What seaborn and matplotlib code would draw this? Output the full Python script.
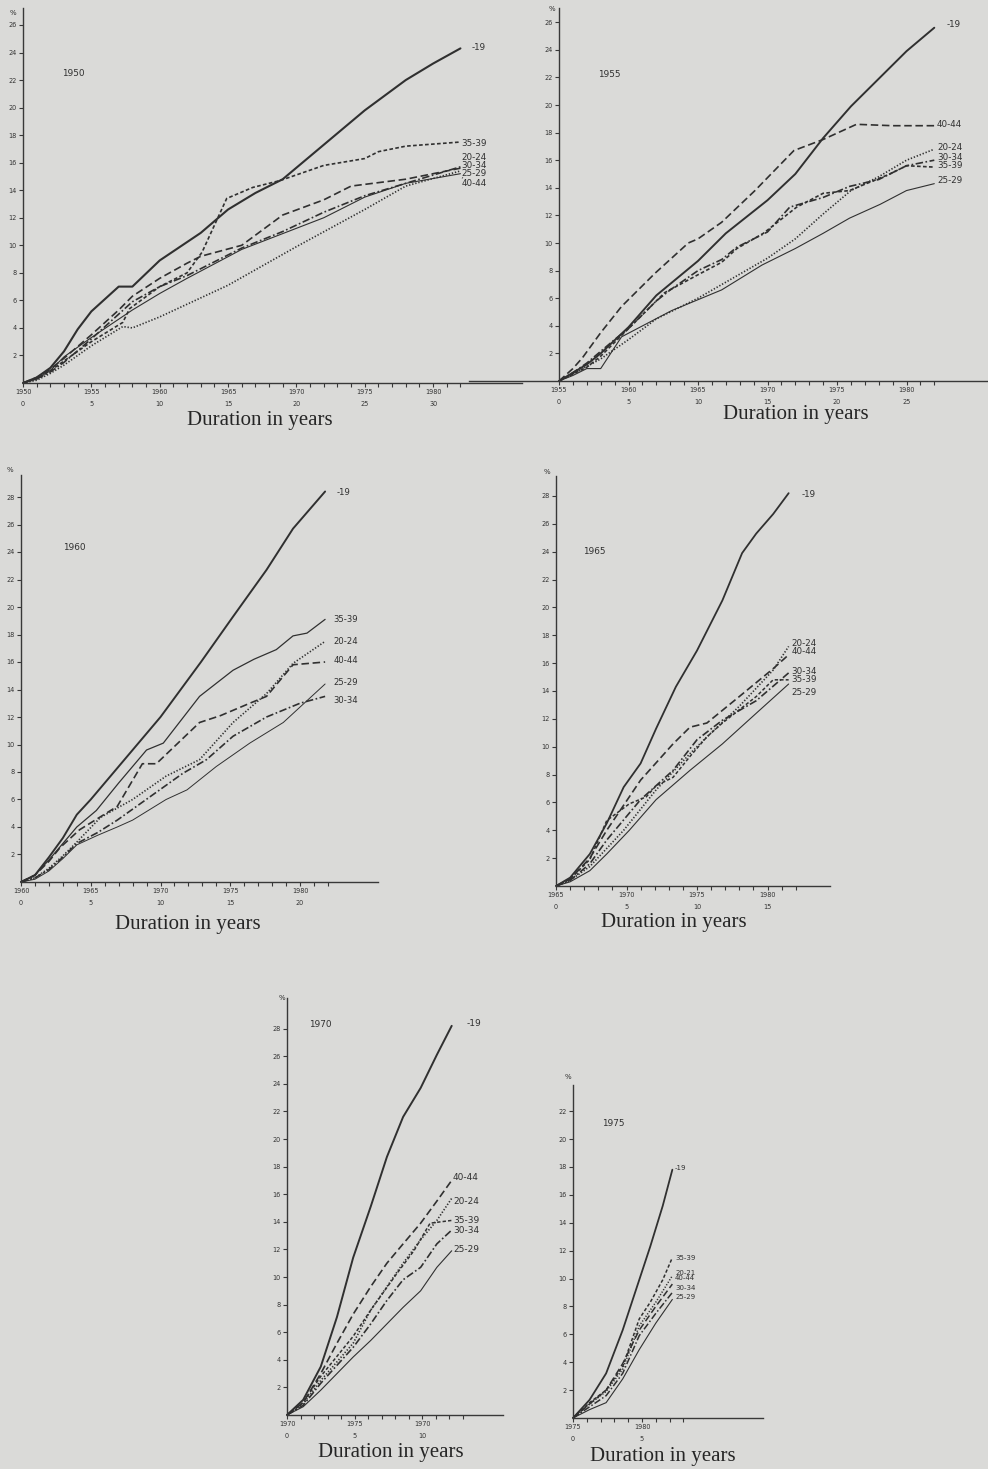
import matplotlib
matplotlib.use("Agg")
import matplotlib.pyplot as plt
import seaborn as sns
import pandas as pd

# ---------------- DATA (duration in years -> cumulative divorce %) ----------------
GROUPS = ["-19", "20-24", "25-29", "30-34", "35-39", "40-44"]

P1950_D = {
    "-19":   [0, 1, 2, 3, 4, 5, 7, 8, 10, 13, 15, 17, 19, 22, 25, 28, 30, 32],
    "35-39": [0, 1, 2, 3, 5, 7.3, 7.8, 10, 12, 13.1, 14.9, 16.8, 18.8, 22, 25, 26, 28, 32],
    "20-24": [0, 1, 2, 3, 5, 7, 8, 10, 12, 13, 16, 19, 22, 24, 28, 32],
    "30-34": [0, 1, 2, 3, 5, 8, 10, 12, 16, 19, 22, 25, 28, 32],
    "25-29": [0, 1, 2, 3, 5, 7.3, 8, 10, 15, 20, 25, 28, 32],
    "40-44": [0, 1, 2, 3, 5, 8, 10, 12, 16, 22, 25, 28, 32],
}
P1950_V = {
    "-19":   [0, 0.4, 1.1, 2.3, 3.9, 5.2, 7.0, 7.0, 8.9, 10.9, 12.6, 13.8, 14.8, 17.3, 19.8, 22.0, 23.2, 24.3],
    "35-39": [0, 0.3, 0.9, 1.6, 3.0, 4.4, 5.4, 7.0, 8.0, 9.5, 13.4, 14.2, 14.7, 15.8, 16.3, 16.8, 17.2, 17.5],
    "20-24": [0, 0.4, 1.0, 1.8, 3.5, 5.3, 6.3, 7.6, 8.7, 9.2, 10.0, 12.2, 13.3, 14.3, 14.8, 15.6],
    "30-34": [0, 0.3, 0.8, 1.5, 3.2, 5.9, 7.0, 7.8, 9.8, 11.0, 12.4, 13.6, 14.5, 15.7],
    "25-29": [0, 0.2, 0.7, 1.3, 2.7, 4.1, 4.0, 4.8, 7.1, 9.9, 12.6, 14.3, 15.4],
    "40-44": [0, 0.3, 0.9, 1.9, 3.3, 5.3, 6.5, 7.6, 9.7, 12.0, 13.5, 14.5, 15.2],
}

P1955_D = {
    "-19":   [0, 1, 2, 3, 5, 7, 10, 12, 15, 17, 19, 21, 23, 25, 27],
    "40-44": [0, 1, 1.7, 3, 4.5, 6.9, 9.3, 10, 11.7, 14.1, 16.9, 19, 21.4, 24, 27],
    "20-24": [0, 1, 3, 5, 7, 10, 15, 17, 19, 21, 23, 25, 27],
    "30-34": [0, 1, 2, 4, 5, 7, 8, 10, 11.7, 12.8, 15, 16.6, 19, 20.9, 23, 25, 27],
    "35-39": [0, 1, 2, 3, 5, 7.6, 10, 11.7, 12.8, 14.7, 17.1, 19, 20.9, 23.8, 25, 27],
    "25-29": [0, 1, 2, 3, 4.5, 8.1, 11.7, 14.6, 17, 19, 20.9, 23.1, 25, 27],
}
P1955_V = {
    "-19":   [0, 0.6, 1.2, 2.0, 3.9, 6.2, 8.7, 10.7, 13.1, 15.0, 17.6, 19.9, 21.9, 23.9, 25.6],
    "40-44": [0, 0.9, 1.7, 3.5, 5.4, 7.8, 10.0, 10.3, 11.5, 13.8, 16.7, 17.5, 18.6, 18.5, 18.5],
    "20-24": [0, 0.5, 1.6, 3.0, 4.5, 6.0, 8.9, 10.3, 12.1, 13.8, 14.8, 16.0, 16.8],
    "30-34": [0, 0.6, 1.3, 3.0, 3.8, 5.8, 6.6, 8.0, 8.8, 9.7, 10.8, 12.6, 13.3, 14.1, 14.6, 15.6, 16.0],
    "35-39": [0, 0.5, 1.0, 1.8, 3.8, 6.4, 7.7, 8.6, 9.6, 10.7, 12.6, 13.6, 13.8, 15.0, 15.6, 15.5],
    "25-29": [0, 0.4, 0.9, 0.9, 3.2, 5.1, 6.6, 8.4, 9.6, 10.7, 11.8, 12.8, 13.8, 14.3],
}

P1960_D = {
    "-19":   [0, 1, 2, 3, 4, 5, 6, 8, 10, 12.9, 15.2, 17.6, 19.5, 21.8],
    "35-39": [0, 1, 2, 3, 4, 5.4, 7, 9, 10.2, 12.8, 15.2, 16.7, 18.3, 19.5, 20.5, 21.8],
    "20-24": [0, 1, 2, 3, 4, 5.7, 8, 10.4, 12.8, 15.2, 17.6, 19.5, 21.8],
    "40-44": [0, 1, 2, 2.8, 4.2, 6.9, 8.7, 9.7, 12.8, 14.3, 16.4, 17.6, 19.5, 21.8],
    "25-29": [0, 1, 2, 3, 4, 5.5, 6.9, 8, 10.4, 11.9, 14, 16.4, 18.8, 21.8],
    "30-34": [0, 1, 2, 3, 4, 5.5, 6.9, 9.25, 11.6, 13.3, 15.2, 17.6, 20, 21.8],
}
P1960_V = {
    "-19":   [0, 0.5, 1.8, 3.2, 4.9, 6.0, 7.2, 9.6, 12.0, 16.0, 19.3, 22.7, 25.7, 28.4],
    "35-39": [0, 0.5, 1.6, 2.8, 4.0, 5.2, 7.2, 9.6, 10.1, 13.5, 15.4, 16.2, 16.9, 17.9, 18.1, 19.1],
    "20-24": [0, 0.3, 1.0, 1.9, 2.9, 4.7, 6.0, 7.7, 8.9, 11.6, 13.7, 15.9, 17.5],
    "40-44": [0, 0.5, 1.5, 2.5, 3.8, 5.5, 8.6, 8.6, 11.6, 12.1, 13.0, 13.5, 15.8, 16.0],
    "25-29": [0, 0.2, 0.8, 1.7, 2.7, 3.4, 4.0, 4.5, 6.0, 6.7, 8.4, 10.1, 11.6, 14.4],
    "30-34": [0, 0.3, 0.9, 1.8, 2.8, 3.6, 4.5, 6.2, 7.9, 8.9, 10.6, 12.0, 13.0, 13.5],
}

P1965_D = {
    "-19":   [0, 1, 2.4, 3.6, 4.8, 6, 7.1, 8.5, 10, 11.8, 13.2, 14.2, 15.4, 16.5],
    "20-24": [0, 1, 2.4, 3.6, 4.8, 7.1, 9.5, 10.7, 13, 15.4, 16.5],
    "40-44": [0, 1, 2.4, 3.6, 6, 8.3, 9.5, 10.7, 13, 15.4, 16.5],
    "30-34": [0, 1, 2.4, 3.6, 6, 8.3, 10, 11.8, 14.2, 16.5],
    "35-39": [0, 1, 2.4, 3.6, 5.2, 6.4, 7.1, 8.3, 9.5, 10.7, 11.8, 14.2, 15.4, 16.5],
    "25-29": [0, 1, 2.4, 3.6, 5.2, 7.1, 9.5, 11.8, 14.2, 16.5],
}
P1965_V = {
    "-19":   [0, 0.6, 2.3, 4.5, 7.1, 8.8, 11.3, 14.3, 16.9, 20.5, 23.9, 25.3, 26.7, 28.2],
    "20-24": [0, 0.4, 1.4, 2.7, 4.0, 6.9, 9.5, 10.7, 12.9, 15.5, 17.2],
    "40-44": [0, 0.5, 2.0, 4.0, 7.6, 10.2, 11.4, 11.7, 13.6, 15.6, 16.6],
    "30-34": [0, 0.4, 1.6, 3.3, 6.2, 8.3, 10.5, 11.9, 13.3, 15.3],
    "35-39": [0, 0.5, 1.9, 4.7, 5.9, 6.4, 7.2, 7.8, 9.3, 10.7, 11.7, 13.6, 14.8, 14.8],
    "25-29": [0, 0.3, 1.1, 2.3, 4.0, 6.2, 8.3, 10.2, 12.4, 14.5],
}

P1970_D = {
    "-19":   [0, 1.2, 2.5, 3.7, 4.9, 6.2, 7.4, 8.6, 9.9, 11.1, 12.2],
    "40-44": [0, 1.2, 2.5, 3.7, 4.9, 6.2, 7.4, 8.6, 9.9, 11.1, 12.2],
    "20-24": [0, 1.2, 2.5, 4.9, 6.2, 7.4, 8.6, 9.9, 11.1, 12.2],
    "35-39": [0, 1.2, 2.5, 4.9, 6.2, 8.1, 9.4, 10.6, 12.2],
    "30-34": [0, 1.2, 2.5, 4.9, 6.2, 7.4, 8.6, 9.9, 11.1, 12.2],
    "25-29": [0, 1.2, 2.5, 4.9, 6.2, 8.6, 9.9, 11.1, 12.2],
}
P1970_V = {
    "-19":   [0, 1.1, 3.5, 7.1, 11.4, 15.1, 18.7, 21.6, 23.7, 26.1, 28.2],
    "40-44": [0, 0.9, 3.0, 5.2, 7.3, 9.3, 11.0, 12.4, 13.9, 15.5, 17.0],
    "20-24": [0, 0.8, 2.5, 5.2, 7.6, 9.3, 11.0, 12.7, 14.1, 15.7],
    "35-39": [0, 0.9, 2.8, 5.7, 7.6, 10.2, 11.9, 13.9, 14.1],
    "30-34": [0, 0.7, 2.3, 4.9, 6.6, 8.3, 9.8, 10.7, 12.4, 13.4],
    "25-29": [0, 0.6, 1.8, 4.2, 5.4, 7.8, 9.0, 10.7, 11.9],
}

P1975_D = {
    "-19":   [0, 1.2, 2.4, 3.6, 4.8, 5.6, 6.5, 7.2],
    "35-39": [0, 1.2, 2.4, 3.6, 4.8, 5.6, 6.5, 7.2],
    "20-24": [0, 1.2, 2.4, 3.6, 4.8, 6.0, 7.2],
    "40-44": [0, 1.2, 2.4, 3.6, 4.8, 6.0, 7.2],
    "30-34": [0, 1.2, 2.4, 3.6, 4.8, 6.0, 7.2],
    "25-29": [0, 1.2, 2.4, 3.6, 4.8, 6.0, 7.2],
}
P1975_V = {
    "-19":   [0, 1.3, 3.2, 6.3, 9.9, 12.3, 15.2, 17.8],
    "35-39": [0, 1.1, 2.0, 3.7, 7.1, 8.3, 9.9, 11.5],
    "20-24": [0, 1.0, 1.9, 3.5, 6.6, 8.3, 10.2],
    "40-44": [0, 1.0, 2.0, 3.9, 6.3, 8.0, 9.6],
    "30-34": [0, 0.8, 1.6, 3.2, 5.9, 7.5, 9.0],
    "25-29": [0, 0.6, 1.1, 2.8, 4.9, 6.8, 8.5],
}

# label text printed at the right end of each curve (as in the source)
LABELS_1975 = {"-19": "-19", "35-39": "35-39", "20-24": "20-21", "40-44": "40-44",
               "30-34": "30-34", "25-29": "25-29"}

# x tick labels (year, duration) every 5 years
XT_1950 = ["1950", "1955", "1960", "1965", "1970", "1975", "1980"]
XT_1955 = ["1955", "1960", "1965", "1970", "1975", "1980"]
XT_1960 = ["1960", "1965", "1970", "1975", "1980"]
XT_1965 = ["1965", "1970", "1975", "1980"]
XT_1970 = ["1970", "1975", "1970"]
XT_1975 = ["1975", "1980"]

PANELS = [
    ("1950", P1950_D, P1950_V, XT_1950),
    ("1955", P1955_D, P1955_V, XT_1955),
    ("1960", P1960_D, P1960_V, XT_1960),
    ("1965", P1965_D, P1965_V, XT_1965),
    ("1970", P1970_D, P1970_V, XT_1970),
    ("1975", P1975_D, P1975_V, XT_1975),
]

# ---------------- LAYOUT / STYLE ----------------
W, H = 988, 1469
BG = "#dadad8"
INK = "#303030"

GEOM = {  # axis origin in px, px per unit, limits
    "1950": dict(x0=23, y0=383, sx=13.67, sy=13.77, xmin=0, xmax=36.5, ymax=27.2, ytop=26),
    "1955": dict(x0=559, y0=381, sx=13.9, sy=13.8, xmin=-6.5, xmax=30.8, ymax=27.0, ytop=26),
    "1960": dict(x0=21, y0=882, sx=13.95, sy=13.75, xmin=0, xmax=25.6, ymax=29.6, ytop=28),
    "1965": dict(x0=556, y0=886, sx=14.1, sy=13.93, xmin=0, xmax=19.4, ymax=29.4, ytop=28),
    "1970": dict(x0=287, y0=1415, sx=13.5, sy=13.8, xmin=0, xmax=16.0, ymax=30.2, ytop=28),
    "1975": dict(x0=573, y0=1418, sx=13.8, sy=13.95, xmin=0, xmax=13.8, ymax=23.9, ytop=22),
}

SOLID = "-"
LDASH = (0, (4.5, 2.2))
SDASH = (0, (2.2, 1.4))
DOT = (0, (0.8, 1.1))
DASHDOT = (0, (4.5, 1.5, 1.0, 1.5))

STYLE = {
    "1950": {"-19": (SOLID, 1.5), "35-39": (SDASH, 1.2), "20-24": (LDASH, 1.2),
             "30-34": (DASHDOT, 1.2), "25-29": (DOT, 1.2), "40-44": (SOLID, 0.8)},
    "1955": {"-19": (SOLID, 1.4), "40-44": (LDASH, 1.2), "20-24": (DOT, 1.2),
             "30-34": (DASHDOT, 1.2), "35-39": (SDASH, 1.2), "25-29": (SOLID, 0.8)},
    "1960": {"-19": (SOLID, 1.4), "35-39": (SOLID, 0.9), "20-24": (DOT, 1.2),
             "40-44": (LDASH, 1.2), "25-29": (SOLID, 0.7), "30-34": (DASHDOT, 1.2)},
    "1965": {"-19": (SOLID, 1.3), "20-24": (DOT, 1.2), "40-44": (LDASH, 1.2),
             "30-34": (DASHDOT, 1.2), "35-39": (SDASH, 1.1), "25-29": (SOLID, 0.8)},
    "1970": {"-19": (SOLID, 1.4), "40-44": (LDASH, 1.2), "20-24": (DOT, 1.2),
             "35-39": (SDASH, 1.1), "30-34": (DASHDOT, 1.2), "25-29": (SOLID, 0.8)},
    "1975": {"-19": (SOLID, 1.3), "35-39": (SDASH, 1.1), "20-24": (DOT, 1.1),
             "40-44": (LDASH, 1.1), "30-34": (DASHDOT, 1.1), "25-29": (SOLID, 0.8)},
}

# label positions (data coords) at right of each panel
LABPOS = {
    "1950": {"-19": (32.8, 24.4), "35-39": (32.1, 17.4), "20-24": (32.1, 16.4),
             "30-34": (32.1, 15.8), "25-29": (32.1, 15.2), "40-44": (32.1, 14.5)},
    "1955": {"-19": (27.9, 25.8), "40-44": (27.2, 18.6), "20-24": (27.2, 16.9),
             "30-34": (27.2, 16.2), "35-39": (27.2, 15.6), "25-29": (27.2, 14.5)},
    "1960": {"-19": (22.6, 28.3), "35-39": (22.4, 19.1), "20-24": (22.4, 17.5),
             "40-44": (22.4, 16.1), "25-29": (22.4, 14.5), "30-34": (22.4, 13.2)},
    "1965": {"-19": (17.4, 28.1), "20-24": (16.7, 17.4), "40-44": (16.7, 16.8),
             "30-34": (16.7, 15.4), "35-39": (16.7, 14.8), "25-29": (16.7, 13.9)},
    "1970": {"-19": (13.3, 28.4), "40-44": (12.3, 17.2), "20-24": (12.3, 15.5),
             "35-39": (12.3, 14.1), "30-34": (12.3, 13.4), "25-29": (12.3, 12.0)},
    "1975": {"-19": (7.4, 17.9), "35-39": (7.4, 11.5), "20-24": (7.4, 10.4),
             "40-44": (7.4, 10.0), "30-34": (7.4, 9.3), "25-29": (7.4, 8.7)},
}
YEARPOS = {"1950": (2.85, 22.5), "1955": (2.8, 22.2), "1960": (3.0, 24.3),
           "1965": (1.9, 24.0), "1970": (1.6, 28.3), "1975": (2.1, 21.1)}
PCT_PX = {"1950": (13, 13), "1955": (552, 9), "1960": (10, 470), "1965": (547, 472),
          "1970": (282, 998), "1975": (568, 1077)}
XLABEL_PX = {"1950": (260, 421), "1955": (796, 415), "1960": (188, 925),
             "1965": (674, 922), "1970": (391, 1453), "1975": (663, 1457)}
LABSIZE = {"1950": 6.3, "1955": 6.3, "1960": 6.1, "1965": 6.3, "1970": 6.5, "1975": 5.0}

# ---------------- DRAW ----------------
sns.set_theme(style="white")
plt.rcParams["font.family"] = ["DejaVu Sans"]

fig = plt.figure(figsize=(W / 100, H / 100), dpi=100, facecolor=BG)

for name, DD, VV, xt in PANELS:
    g = GEOM[name]
    left_px = g["x0"] + g["xmin"] * g["sx"]
    right_px = g["x0"] + g["xmax"] * g["sx"]
    top_px = g["y0"] - g["ymax"] * g["sy"]
    ax = fig.add_axes([left_px / W, 1 - g["y0"] / H,
                       (right_px - left_px) / W, (g["y0"] - top_px) / H])
    ax.set_facecolor("none")
    ax.set_xlim(g["xmin"], g["xmax"])
    ax.set_ylim(0, g["ymax"])

    for grp in DD:
        ls, lw = STYLE[name][grp]
        df = pd.DataFrame({"d": DD[grp], "v": VV[grp]})
        sns.lineplot(data=df, x="d", y="v", ax=ax, color=INK, linewidth=lw,
                     linestyle=ls, estimator=None, sort=False, legend=False)
        ax.lines[-1].set_clip_on(False)
        lab = LABELS_1975[grp] if name == "1975" else grp
        lx, ly = LABPOS[name][grp]
        ax.text(lx, ly, lab, fontsize=LABSIZE[name], color=INK, ha="left",
                va="center")
    if name == "1950":
        lx, ly = LABPOS[name]["40-44"]
        ax.annotate("", xy=(DD["40-44"][-1] + 0.3, VV["40-44"][-1] - 0.1),
                    xytext=(lx - 0.1, ly + 0.2),
                    arrowprops=dict(arrowstyle="-", color=INK, lw=0.5))

    ax.set_xlabel("")
    ax.set_ylabel("")
    for s in ["top", "right"]:
        ax.spines[s].set_visible(False)
    for s in ["left", "bottom"]:
        ax.spines[s].set_color("#383838")
        ax.spines[s].set_linewidth(1.0)
    ax.spines["left"].set_position(("data", 0))

    ax.set_yticks(list(range(2, g["ytop"] + 1, 2)))
    ax.set_yticklabels([str(v) for v in range(2, g["ytop"] + 1, 2)])
    majors = [5 * i for i in range(len(xt))]
    ax.set_xticks(majors)
    ax.set_xticklabels([f"{y}\n{d}" for y, d in zip(xt, majors)])
    last = int(max(max(v) for v in DD.values()) + 0.99)
    ax.set_xticks([i for i in range(1, last + 1) if i % 5], minor=True)
    ax.tick_params(axis="both", which="both", direction="out", length=3,
                   width=0.8, color="#383838", labelsize=4.7, labelcolor="#333333",
                   pad=1.5)
    ax.tick_params(axis="x", which="both", bottom=True, left=False)
    ax.tick_params(axis="y", which="major", left=True)
    for t in ax.get_xticklabels():
        t.set_linespacing(2.2)

    yx, yy = YEARPOS[name]
    ax.text(yx, yy, name, fontsize=6.4, color=INK, ha="left", va="center")

    px, py = PCT_PX[name]
    fig.text(px / W, 1 - py / H, "%", fontsize=5, color=INK, ha="center", va="center")
    cx, cy = XLABEL_PX[name]
    fig.text(cx / W, 1 - cy / H, "Duration in years", fontsize=15,
             family="Liberation Serif", color="#262626", ha="center", va="center")

fig.savefig("out.png", dpi=100, facecolor=BG)
